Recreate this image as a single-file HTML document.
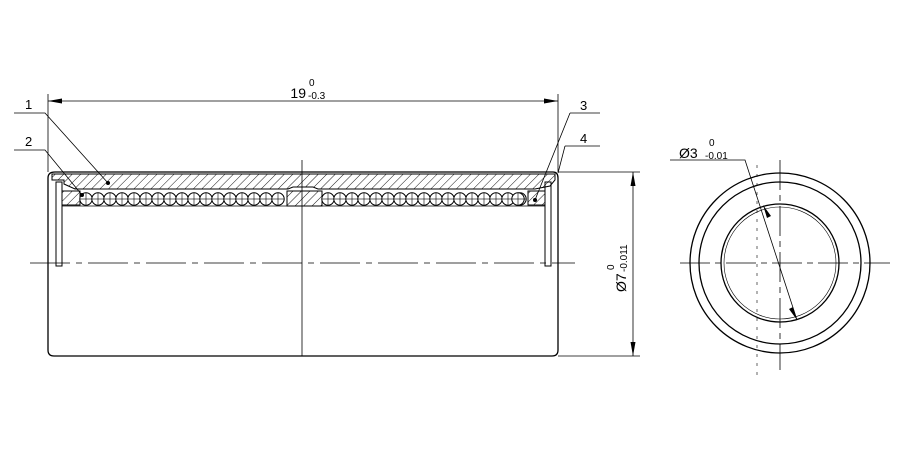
<!DOCTYPE html>
<html><head><style>body{margin:0;background:#fff}svg{display:block}text{font-family:"Liberation Sans",sans-serif;fill:#000}</style></head><body>
<svg width="900" height="466" viewBox="0 0 900 466" xmlns="http://www.w3.org/2000/svg">
<defs>
<pattern id="h" width="6" height="6" patternUnits="userSpaceOnUse" patternTransform="rotate(45)"><line x1="0" y1="0" x2="0" y2="6" stroke="#000" stroke-width="0.9"/></pattern>
<g id="ball"><circle r="6.2" fill="#fff" stroke="#000" stroke-width="1"/><line x1="-6" y1="0" x2="6" y2="0" stroke="#000" stroke-width="0.6"/><line x1="0" y1="-6" x2="0" y2="6" stroke="#000" stroke-width="0.6"/></g>
</defs>
<g fill="none" stroke="#000" stroke-width="1.3">
<!-- body -->
<path d="M55 172 H553 Q558 172 558 178 V350 Q558 356 552 356 H54 Q48 356 48 350 V178 Q48 172 55 172 Z"/>
<!-- shell hatch -->
<path d="M52 174 H555 V180 L550 186 L535 189 H318 L313 187 H293 L288 189 H75 L64 184 V180 H52 Z" fill="url(#h)" stroke-width="1"/>
<!-- seals -->
<rect x="56" y="182" width="6" height="84" stroke-width="1"/>
<rect x="545" y="182" width="6" height="84" stroke-width="1"/>
<rect x="62" y="191" width="18" height="14" fill="url(#h)" stroke-width="1"/>
<rect x="528" y="191" width="17" height="14" fill="url(#h)" stroke-width="1"/>
<rect x="287" y="191" width="35" height="15" fill="url(#h)" stroke-width="1"/>
<line x1="62" y1="206" x2="545" y2="206" stroke-width="0.8"/>
<!-- center lines -->
<line x1="302" y1="160" x2="302" y2="356" stroke-width="0.8"/>
<line x1="30" y1="263" x2="575" y2="263" stroke-width="0.8" stroke-dasharray="40 6 6 6"/>
<!-- dimension 19 -->
<line x1="48" y1="94" x2="48" y2="172" stroke-width="0.8"/>
<line x1="558" y1="94" x2="558" y2="172" stroke-width="0.8"/>
<line x1="48" y1="101" x2="558" y2="101" stroke-width="0.8"/>
<!-- dia 7 -->
<line x1="558" y1="172" x2="640" y2="172" stroke-width="0.8"/>
<line x1="558" y1="356" x2="640" y2="356" stroke-width="0.8"/>
<line x1="633" y1="172" x2="633" y2="356" stroke-width="0.8"/>
<!-- leaders -->
<path d="M14 113 H45 L108 183" stroke-width="0.8"/>
<path d="M14 150 H45 L82 195" stroke-width="0.8"/>
<path d="M570 113 H600 M570 113 L535 200" stroke-width="0.8"/>
<path d="M565 146 H600 M565 146 L558 173" stroke-width="0.8"/>
<!-- end view -->
<circle cx="780" cy="263" r="90"/>
<circle cx="780" cy="263" r="81"/>
<circle cx="780" cy="263" r="59"/>
<circle cx="780" cy="263" r="56" stroke-width="0.6"/>
<line x1="680" y1="263" x2="890" y2="263" stroke-width="0.8" stroke-dasharray="30 5 6 5"/>
<line x1="780" y1="160" x2="780" y2="370" stroke-width="0.8" stroke-dasharray="30 5 6 5"/>
<line x1="757" y1="165" x2="757" y2="375" stroke-width="0.6" stroke-dasharray="3 6"/>
<path d="M670 160 H745 L797 320" stroke-width="0.8"/>
</g>
<g fill="#000">
<path d="M48 101 L62 98.5 V103.5 Z"/><path d="M558 101 L544 98.5 V103.5 Z"/>
<path d="M633 172 L630.5 186 H635.5 Z"/><path d="M633 356 L630.5 342 H635.5 Z"/>
<path d="M763 205 L767 218 L771 216 Z"/><path d="M797 320 L789 309 L793 307 Z"/>
</g>
<g id="b">
<use href="#ball" x="86" y="199"/><use href="#ball" x="98" y="199"/><use href="#ball" x="110" y="199"/><use href="#ball" x="122" y="199"/><use href="#ball" x="134" y="199"/><use href="#ball" x="146" y="199"/><use href="#ball" x="158" y="199"/><use href="#ball" x="170" y="199"/><use href="#ball" x="182" y="199"/><use href="#ball" x="194" y="199"/><use href="#ball" x="206" y="199"/><use href="#ball" x="218" y="199"/><use href="#ball" x="230" y="199"/><use href="#ball" x="242" y="199"/><use href="#ball" x="254" y="199"/><use href="#ball" x="266" y="199"/><use href="#ball" x="278" y="199"/>
</g>
<use href="#b" x="242"/>
<use href="#ball" x="518" y="199"/>
<g fill="#000"><circle cx="108" cy="183" r="2"/><circle cx="82" cy="195" r="2"/><circle cx="535" cy="200" r="2"/></g>
<text x="306" y="98" font-size="14" text-anchor="end">19</text>
<text x="309" y="86" font-size="10">0</text>
<text x="308" y="99" font-size="10">-0.3</text>
<text x="25" y="109" font-size="13">1</text>
<text x="25" y="146" font-size="13">2</text>
<text x="580" y="110" font-size="13">3</text>
<text x="580" y="143" font-size="13">4</text>
<text x="679" y="158" font-size="14">Ø3</text>
<text x="709" y="146" font-size="10">0</text>
<text x="705" y="159" font-size="10">-0.01</text>
<g transform="translate(626 292) rotate(-90)"><text x="0" y="0" font-size="14">Ø7</text><text x="22" y="-12" font-size="10">0</text><text x="20" y="1" font-size="10">-0.011</text></g>
</svg>
</body></html>
